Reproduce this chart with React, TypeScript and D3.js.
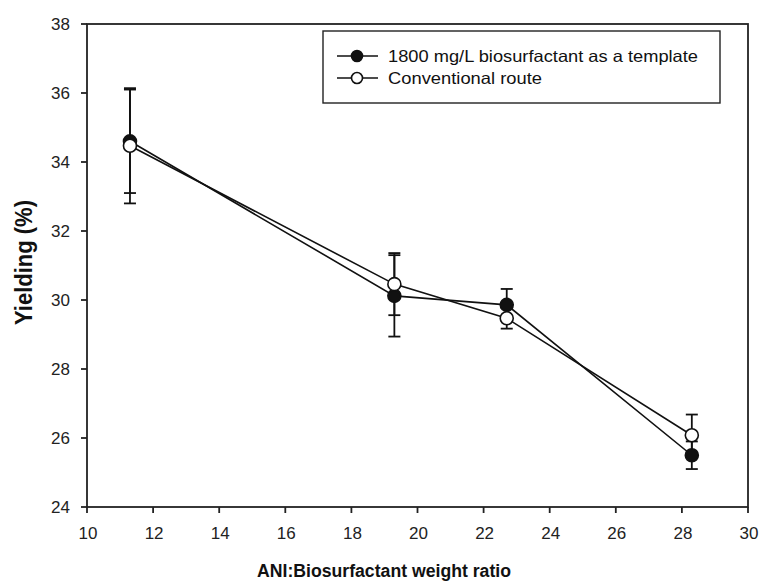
import React from "react";
import * as d3 from "d3";

// Weight ratio (ANI : biosurfactant) for each sample
const ratios = [11.3, 19.3, 22.7, 28.3];

// Yield (%) and standard deviation, 1800 mg/L biosurfactant template
const templateYield = [34.6, 30.12, 29.86, 25.5];
const templateErr = [1.5, 1.18, 0.46, 0.4];

// Yield (%) and standard deviation, conventional route
const conventionalYield = [34.47, 30.46, 29.47, 26.08];
const conventionalErr = [1.67, 0.9, 0.3, 0.6];

const xTicks = [10, 12, 14, 16, 18, 20, 22, 24, 26, 28, 30];
const yTicks = [24, 26, 28, 30, 32, 34, 36, 38];

const seriesNames = ["1800 mg/L biosurfactant as a template", "Conventional route"];

const W = 761;
const H = 581;
const M = { left: 87, right: 748, top: 24, bottom: 507 };

export default function App() {
  const x = d3.scaleLinear().domain([10, 30]).range([M.left, M.right]);
  const y = d3.scaleLinear().domain([24, 38]).range([M.bottom, M.top]);
  const line = d3
    .line<[number, number]>()
    .x((d) => x(d[0]))
    .y((d) => y(d[1]));

  const series = [
    { name: seriesNames[0], values: templateYield, errs: templateErr, fill: "#111", len: 310 },
    { name: seriesNames[1], values: conventionalYield, errs: conventionalErr, fill: "#fff", len: 154 },
  ];

  const font = "Arial, 'Liberation Sans', sans-serif";
  const capHalf = 6;
  const r = 6.5;

  return (
    <svg
      width={W}
      height={H}
      style={{ position: "absolute", left: 0, top: 0, background: "#fff" }}
      fontFamily={font}
    >
      {/* frame */}
      <rect
        x={M.left}
        y={M.top}
        width={M.right - M.left}
        height={M.bottom - M.top}
        fill="none"
        stroke="#222"
        strokeWidth={1.8}
      />

      {/* y axis ticks and labels */}
      {yTicks.map((t) => (
        <g key={"y" + t}>
          <line x1={M.left - 6} x2={M.left} y1={y(t)} y2={y(t)} stroke="#222" strokeWidth={1.8} />
          <text x={70} y={y(t) + 6} textAnchor="end" fontSize={17} fill="#222">
            {t}
          </text>
        </g>
      ))}

      {/* x axis ticks and labels */}
      {xTicks.map((t) => (
        <g key={"x" + t}>
          <line x1={x(t)} x2={x(t)} y1={M.bottom} y2={M.bottom + 6} stroke="#222" strokeWidth={1.8} />
          <text x={x(t) + 1} y={539} textAnchor="middle" fontSize={17} fill="#222">
            {t}
          </text>
        </g>
      ))}

      {/* axis titles */}
      <text
        x={257}
        y={577}
        fontSize={18}
        fontWeight="bold"
        fill="#111"
        textLength={254}
        lengthAdjust="spacingAndGlyphs"
      >
        ANI:Biosurfactant weight ratio
      </text>
      <text
        transform={`translate(32, 325) rotate(-90)`}
        fontSize={23}
        fontWeight="bold"
        fill="#111"
        textLength={125}
        lengthAdjust="spacingAndGlyphs"
      >
        Yielding (%)
      </text>

      {/* error bars */}
      {series.map((s, si) =>
        ratios.map((rv, i) => {
          const cx = x(rv);
          const top = y(s.values[i] + s.errs[i]);
          const bot = y(s.values[i] - s.errs[i]);
          return (
            <g key={`e${si}-${i}`} stroke="#111" strokeWidth={1.8}>
              <line x1={cx} x2={cx} y1={top} y2={bot} />
              <line x1={cx - capHalf} x2={cx + capHalf} y1={top} y2={top} />
              <line x1={cx - capHalf} x2={cx + capHalf} y1={bot} y2={bot} />
            </g>
          );
        })
      )}

      {/* lines */}
      {series.map((s, si) => (
        <path
          key={"l" + si}
          d={line(ratios.map((rv, i) => [rv, s.values[i]]) as [number, number][]) || ""}
          fill="none"
          stroke="#111"
          strokeWidth={1.6}
        />
      ))}

      {/* markers */}
      {series.map((s, si) =>
        ratios.map((rv, i) => (
          <circle
            key={`m${si}-${i}`}
            cx={x(rv)}
            cy={y(s.values[i])}
            r={r}
            fill={s.fill}
            stroke="#111"
            strokeWidth={1.6}
          />
        ))
      )}

      {/* legend */}
      <rect x={323} y={31} width={397} height={72} fill="#fff" stroke="#222" strokeWidth={1.4} />
      {series.map((s, si) => {
        const ly = 56 + si * 22;
        return (
          <g key={"lg" + si}>
            <line x1={337} x2={378} y1={ly} y2={ly} stroke="#111" strokeWidth={1.6} />
            <circle cx={357} cy={ly} r={5.5} fill={s.fill} stroke="#111" strokeWidth={1.6} />
            <text
              x={388}
              y={ly + 6}
              fontSize={16.5}
              fill="#111"
              textLength={s.len}
              lengthAdjust="spacingAndGlyphs"
            >
              {s.name}
            </text>
          </g>
        );
      })}
    </svg>
  );
}
